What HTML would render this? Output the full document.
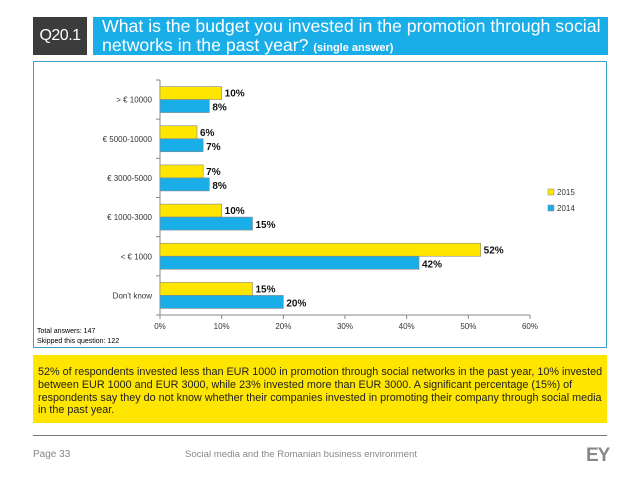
<!DOCTYPE html>
<html><head><meta charset="utf-8"><style>
body{margin:0;width:638px;height:479px;background:#fff;position:relative;font-family:"Liberation Sans",sans-serif;overflow:hidden}
.abs{position:absolute}
</style></head><body>
<div class="abs" style="left:33px;top:17px;width:54px;height:38px;background:#3c3c3c;color:#fff;font-size:16px;line-height:38px;text-align:center;letter-spacing:-0.5px">Q20.1</div>
<div class="abs" style="left:93px;top:17px;width:515px;height:38px;background:#1aaee8;color:#fff;font-size:17.7px;line-height:19px;padding-left:9px;box-sizing:border-box;white-space:nowrap">What is the budget you invested in the promotion through social<br>networks in the past year? <b style="font-size:11px">(single answer)</b></div>
<div class="abs" style="left:33px;top:61px;width:574px;height:287px;border:1px solid #3aa0c8;box-sizing:border-box"></div>
<svg class="abs" style="left:0;top:0" width="638" height="479" id="chart"></svg>
<div class="abs" style="left:37px;top:327px;font-size:7px;line-height:10px;color:#000">Total answers: 147<br>Skipped this question: 122</div>
<div class="abs" style="left:33px;top:355px;width:574px;height:68px;background:#ffe600;font-size:10.8px;line-height:12.8px;padding:11px 4px 0 5px;box-sizing:border-box;color:#222">52% of respondents invested less than EUR 1000 in promotion through social networks in the past year, 10% invested between EUR 1000 and EUR 3000, while 23% invested more than EUR 3000. A significant percentage (15%) of respondents say they do not know whether their companies invested in promoting their company through social media in the past year.</div>
<div class="abs" style="left:33px;top:435px;width:574px;height:1px;background:#777"></div>
<div class="abs" style="left:33px;top:449px;font-size:10px;color:#888">Page 33</div>
<div class="abs" style="left:185px;top:449px;font-size:9.6px;color:#888">Social media and the Romanian business environment</div>
<div class="abs" style="left:586px;top:445px;font-size:19px;font-weight:bold;color:#888;letter-spacing:-1px">EY</div>
<script>
const categories=["> € 10000","€ 5000-10000","€ 3000-5000","€ 1000-3000","< € 1000","Don't know"];
const values2015=[10,6,7,10,52,15];
const values2014=[8,7,8,15,42,20];
const ticks=[0,10,20,30,40,50,60];
const svg=document.getElementById('chart');
const NS='http://www.w3.org/2000/svg';
const x0=160,x1=530,yTop=80,yBot=315,max=60;
const xs=v=>x0+(v/max)*(x1-x0);
const band=(yBot-yTop)/categories.length;
function mk(t,a){const e=document.createElementNS(NS,t);for(const k in a)e.setAttribute(k,a[k]);svg.appendChild(e);return e;}
let ax=mk('line',{x1:x0,y1:yTop,x2:x0,y2:yBot,stroke:'#888'});

let bx=mk('line',{x1:x0,y1:yBot,x2:x1,y2:yBot,stroke:'#888'});

ticks.forEach(t=>{
 mk('line',{x1:xs(t),y1:yBot,x2:xs(t),y2:yBot+4,stroke:'#888'});
 const tx=mk('text',{x:xs(t),y:yBot+14,'font-size':8,'text-anchor':'middle',fill:'#333'});tx.textContent=t+'%';
 
});
for(let i=0;i<=categories.length;i++)mk('line',{x1:x0-4,y1:yTop+i*band,x2:x0,y2:yTop+i*band,stroke:'#888'});
categories.forEach((c,i)=>{
 const cy=yTop+band*(i+0.5);
 const l=mk('text',{x:x0-8,y:cy+3,'font-size':8,'text-anchor':'end',fill:'#333'});l.textContent=c;
 
 const b1=mk('rect',{x:x0,y:cy-13,width:xs(values2015[i])-x0,height:13,fill:'#ffe600',stroke:'#888','stroke-width':0.6});
 
 const b2=mk('rect',{x:x0,y:cy,width:xs(values2014[i])-x0,height:13,fill:'#1aaee8',stroke:'#888','stroke-width':0.6});
 
 const v1=mk('text',{x:xs(values2015[i])+3,y:cy-3,'font-size':10,'font-weight':'bold',fill:'#111'});v1.textContent=values2015[i]+'%';
 
 const v2=mk('text',{x:xs(values2014[i])+3,y:cy+11,'font-size':10,'font-weight':'bold',fill:'#111'});v2.textContent=values2014[i]+'%';
 
});
[['2015','#ffe600',195],['2014','#1aaee8',211]].forEach(([n,c,y])=>{
 const r=mk('rect',{x:548,y:y-6,width:6,height:6,fill:c,stroke:'#888','stroke-width':0.5});
 
 const t=mk('text',{x:557,y:y,'font-size':8,fill:'#333'});t.textContent=n;
 
});
</script>
</body></html>
